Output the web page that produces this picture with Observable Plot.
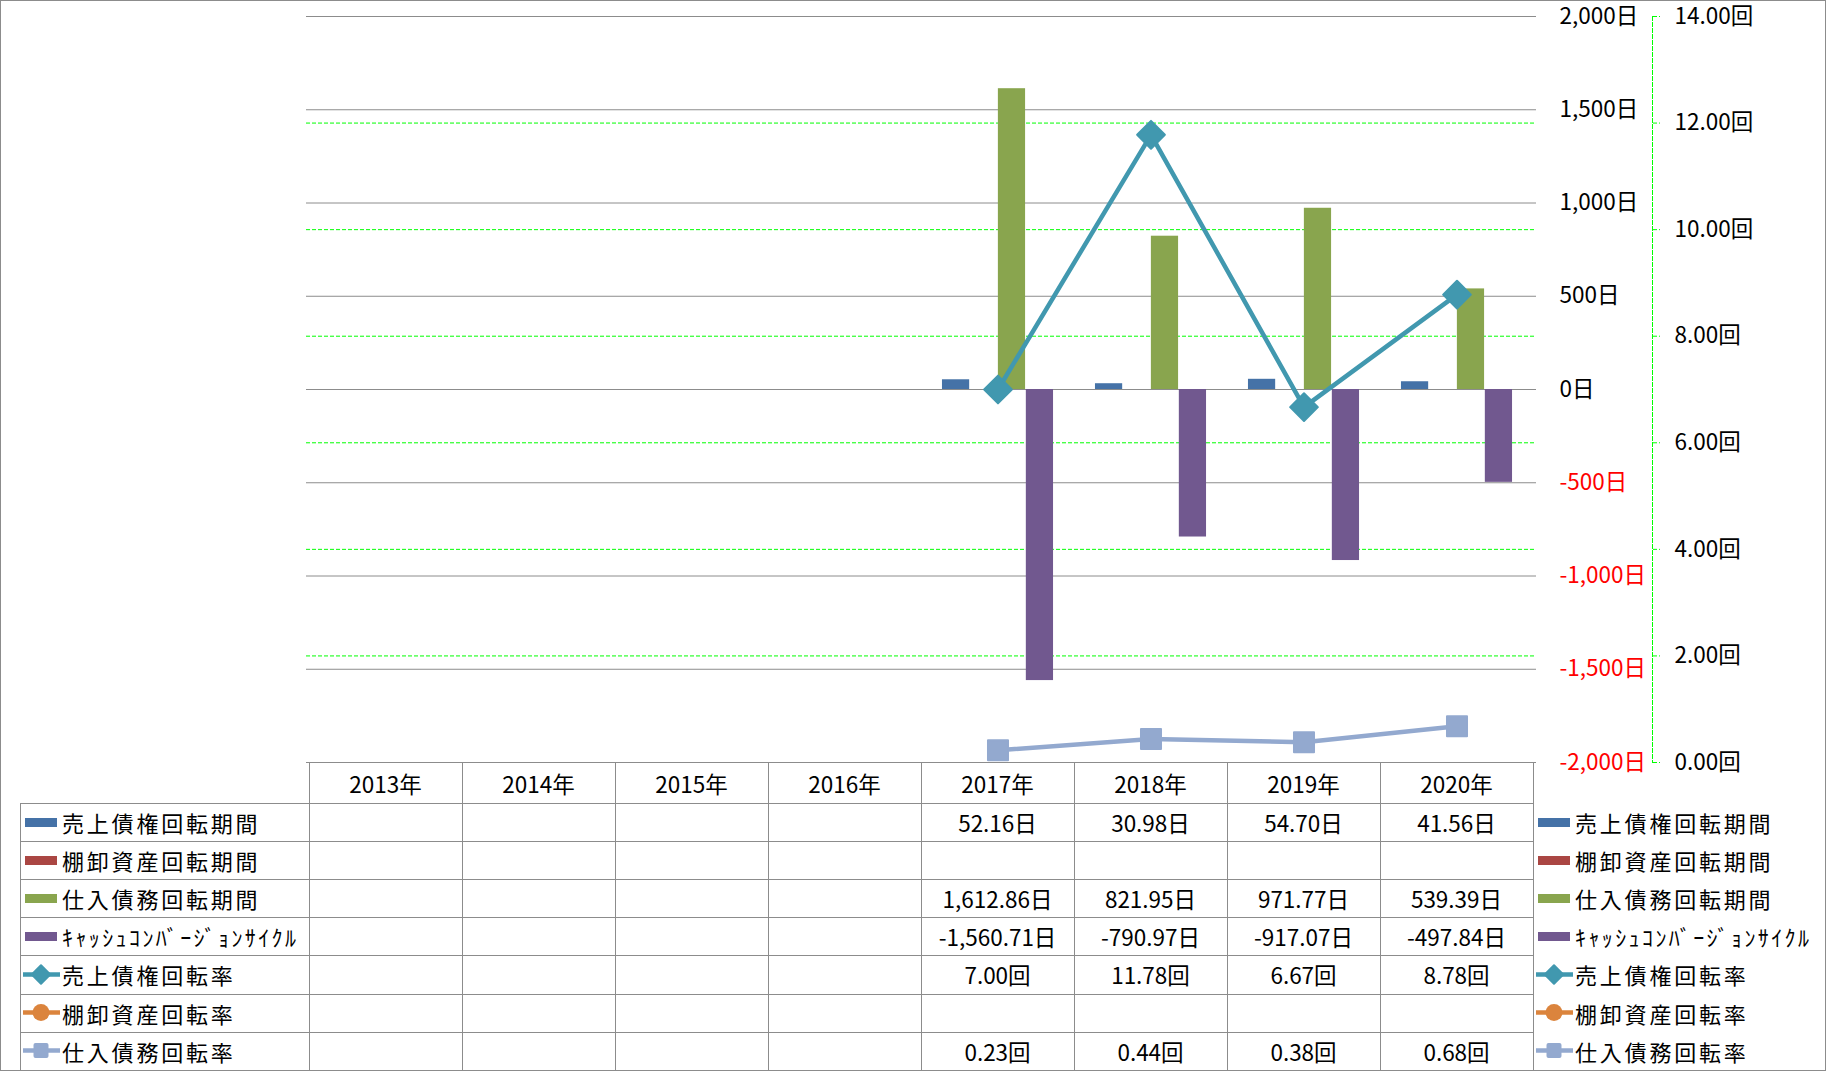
<!DOCTYPE html>
<html>
<head>
<meta charset="utf-8">
<script src="https://cdn.jsdelivr.net/npm/d3@7"></script>
<script src="https://cdn.jsdelivr.net/npm/@observablehq/plot@0.6"></script>
<style>
  body { margin: 0; background: #fff; }
  #wrap { position: relative; width: 1826px; height: 1071px; overflow: hidden; background: #fff;
          font-family: "Noto Sans CJK JP", "Noto Sans", sans-serif; color: #000; }
  #chart { position: absolute; left: 0; top: 0; }
  #border { position: absolute; left: 0; top: 0; width: 1826px; height: 1071px; box-sizing: border-box;
            border: 1px solid #8c8c8c; pointer-events: none; }
  .hl { position: absolute; height: 1px; background: #8c8c8c; }
  .vl { position: absolute; width: 1px; background: #8c8c8c; }
  .cell { position: absolute; display: flex; align-items: center; justify-content: center; font-size: 22.5px; white-space: nowrap; }
  .lcell { position: absolute; display: flex; align-items: center; }
  .leg { display: flex; align-items: center; font-size: 22px; letter-spacing: 2.8px; white-space: nowrap; }
  .leg.kata { letter-spacing: 2.4px; }
  .leg svg { flex: none; }
</style>
</head>
<body>
<div id="wrap"><div id="chart"></div><div id="border"></div></div>
<script>
// ---------- data ----------
const years = ["2013年","2014年","2015年","2016年","2017年","2018年","2019年","2020年"];
const arDays  = [null,null,null,null,52.16,30.98,54.70,41.56];
const invDays = [null,null,null,null,null,null,null,null];
const apDays  = [null,null,null,null,1612.86,821.95,971.77,539.39];
const cccDays = [null,null,null,null,-1560.71,-790.97,-917.07,-497.84];
const arTurn  = [null,null,null,null,7.00,11.78,6.67,8.78];
const invTurn = [null,null,null,null,null,null,null,null];
const apTurn  = [null,null,null,null,0.23,0.44,0.38,0.68];
const dayTicks  = [-2000,-1500,-1000,-500,0,500,1000,1500,2000];
const turnTicks = [0,2,4,6,8,10,12,14];
const seriesNames = ["売上債権回転期間","棚卸資産回転期間","仕入債務回転期間","ｷｬｯｼｭｺﾝﾊﾞｰｼﾞｮﾝｻｲｸﾙ","売上債権回転率","棚卸資産回転率","仕入債務回転率"];
const seriesUnits = ["日","日","日","日","回","回","回"];
const seriesColors = ["#4572A7","#AA4643","#89A54E","#71588F","#4198AF","#DB843D","#93A9CF"];

// ---------- layout ----------
const W = 1826, H = 763, mL = 306, mR = 290, mT = 16, mB = 1;
const bw = (W - mL - mR) / years.length;
const barW = bw / 5.5;
const g0 = (bw - 4 * barW) / 2;

const loc = d3.formatLocale({decimal: ".", thousands: ",", grouping: [3], currency: ["", ""], minus: "-"});
const fInt = loc.format(",");
const f2 = loc.format(",.2f");
const t2d = d3.scaleLinear().domain([0, 14]).range([-2000, 2000]);
const rec = vals => years.map((y, i) => ({year: y, value: vals[i]})).filter(d => d.value != null);

const barSeries = [arDays, invDays, apDays, cccDays];
const lineSeries = [
  {vals: arTurn, color: seriesColors[4], symbol: "diamond2", r: 12.5},
  {vals: invTurn, color: seriesColors[5], symbol: "circle", r: 9},
  {vals: apTurn, color: seriesColors[6], symbol: "square", r: 11.3}
];
const innerTurn = turnTicks.filter(t => t > turnTicks[0] && t < turnTicks[turnTicks.length - 1]);

const marks = [
  Plot.gridY(innerTurn.map(t2d), {stroke: "#00ff00", strokeOpacity: 1, strokeWidth: 1, strokeDasharray: "4,2"}),
  Plot.gridY(dayTicks, {stroke: "#8c8c8c", strokeOpacity: 1, strokeWidth: 1}),
  Plot.frame({anchor: "right", dx: 116, stroke: "#00ff00", strokeDasharray: "4,2"}),
  Plot.axisY(dayTicks.filter(d => d >= 0), {anchor: "right", tickSize: 0, tickPadding: 23, textAnchor: "start",
    tickFormat: d => fInt(d) + "日", fontSize: 22.5, fill: "#000", label: null}),
  Plot.axisY(dayTicks.filter(d => d < 0), {anchor: "right", tickSize: 0, tickPadding: 23, textAnchor: "start",
    tickFormat: d => fInt(d) + "日", fontSize: 22.5, fill: "#ff0000", label: null}),
  Plot.axisY(turnTicks.map(t2d), {anchor: "right", dx: 116, tickSize: 7, tickPadding: 15, textAnchor: "start",
    stroke: "#00ff00", strokeDasharray: "4,2",
    tickFormat: d => t2d.invert(d).toFixed(2) + "回", fontSize: 22.5, fill: "#000", label: null}),
  ...barSeries.map((vals, i) => Plot.barY(rec(vals), {
    x: "year", y: "value", fill: seriesColors[i],
    insetLeft: g0 + i * barW, insetRight: bw - g0 - (i + 1) * barW
  })),
  ...lineSeries.map(s => Plot.line(rec(s.vals), {x: "year", y: d => t2d(d.value), stroke: s.color, strokeWidth: 4.5})),
  ...lineSeries.map(s => Plot.dot(rec(s.vals), {x: "year", y: d => t2d(d.value), symbol: s.symbol, r: s.r,
    fill: s.color, stroke: s.color, strokeWidth: 2, strokeLinejoin: "round"}))
];

const chart = Plot.plot({
  width: W, height: H,
  marginLeft: mL, marginRight: mR, marginTop: mT, marginBottom: mB,
  x: {type: "band", domain: years, padding: 0, axis: null},
  y: {domain: [-2000, 2000], axis: null},
  style: {fontFamily: '"Noto Sans CJK JP", "Noto Sans", sans-serif', fontSize: "22px", background: "transparent", overflow: "visible"},
  marks
});
document.getElementById("chart").appendChild(chart);

// ---------- data table + legend ----------
const xs = chart.scale("x");
const colW = xs.bandwidth;
const allVals = [arDays, invDays, apDays, cccDays, arTurn, invTurn, apTurn];

function swatch(i) {
  const c = seriesColors[i];
  let inner;
  if (i < 4) inner = `<rect x="5" y="12" width="32" height="9" fill="${c}"/>`;
  else {
    const line = `<line x1="3" x2="40" y1="16.5" y2="16.5" stroke="${c}" stroke-width="4.5"/>`;
    let m;
    if (i === 4) m = `<rect x="14.5" y="10" width="13" height="13" fill="${c}" stroke="${c}" stroke-width="2" stroke-linejoin="round" transform="rotate(45 21 16.5)"/>`;
    else if (i === 5) m = `<circle cx="21" cy="16.5" r="8.5" fill="${c}"/>`;
    else m = `<rect x="13.5" y="9" width="15" height="15" rx="2" fill="${c}"/>`;
    inner = line + m;
  }
  return `<svg width="42" height="33" viewBox="0 0 42 33">${inner}</svg>`;
}
function legItem(i) {
  return `<div class="leg${i === 3 ? " kata" : ""}">${swatch(i)}<span>${seriesNames[i]}</span></div>`;
}

const tTop = H - mB;             // 762: bottom of plot frame = top of table
const headH = 41, rowH = 38.1;
const tableLeft = 20;
const xL = xs.apply(years[0]);
const xR = xs.apply(years[years.length - 1]) + colW;
const rowsTop = tTop + headH;
const tBottom = rowsTop + rowH * allVals.length;
let html = "";
// horizontal lines
html += `<div class="hl" style="left:${xL}px;top:${tTop}px;width:${xR - xL + 1}px"></div>`;
for (let r = 0; r <= allVals.length; r++) {
  html += `<div class="hl" style="left:${tableLeft}px;top:${rowsTop + r * rowH}px;width:${xR - tableLeft + 1}px"></div>`;
}
// vertical lines
html += `<div class="vl" style="left:${tableLeft}px;top:${rowsTop}px;height:${tBottom - rowsTop}px"></div>`;
years.forEach(y => {
  html += `<div class="vl" style="left:${xs.apply(y)}px;top:${tTop}px;height:${tBottom - tTop}px"></div>`;
});
html += `<div class="vl" style="left:${xR}px;top:${tTop}px;height:${tBottom - tTop}px"></div>`;
// header cells
years.forEach(y => {
  html += `<div class="cell" style="left:${xs.apply(y)}px;top:${tTop}px;width:${colW}px;height:${headH}px">${y}</div>`;
});
// rows
allVals.forEach((vals, i) => {
  const top = rowsTop + i * rowH;
  html += `<div class="lcell" style="left:${tableLeft}px;top:${top}px;height:${rowH}px">${legItem(i)}</div>`;
  vals.forEach((v, j) => {
    if (v == null) return;
    html += `<div class="cell" style="left:${xs.apply(years[j])}px;top:${top}px;width:${colW}px;height:${rowH}px">${f2(v) + seriesUnits[i]}</div>`;
  });
  html += `<div class="lcell" style="left:${xR}px;top:${top}px;height:${rowH}px">${legItem(i)}</div>`;
});
document.getElementById("wrap").insertAdjacentHTML("beforeend", html);
</script>
</body>
</html>
